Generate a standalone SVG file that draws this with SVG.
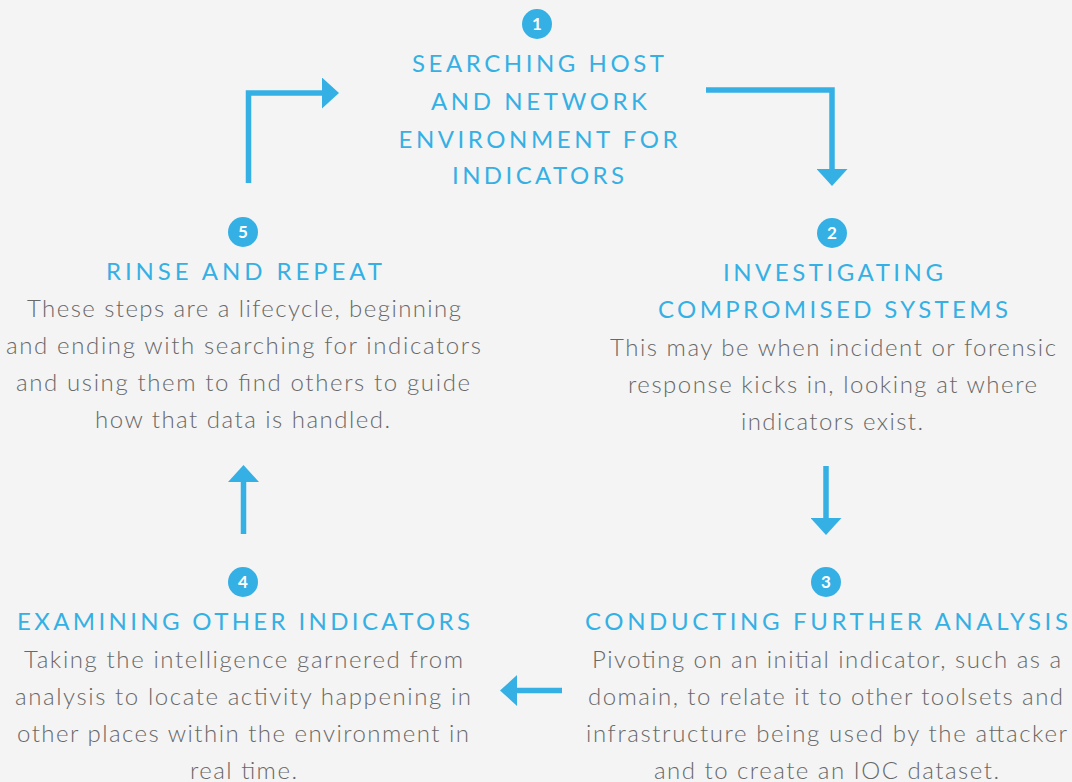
<svg xmlns="http://www.w3.org/2000/svg" width="1072" height="782" viewBox="0 0 1072 782">
  <defs>
    <style>
      .bg { fill: #f4f4f4; }
      .badge { fill: #35b0e5; }
      .num { fill: #ffffff; font-family: "Lato", "Liberation Sans", sans-serif; font-weight: 700; font-size: 17px; text-anchor: middle; }
      .head { fill: #35b0e5; font-family: "Lato", "Liberation Sans", sans-serif; font-weight: 400; font-size: 24px; text-anchor: middle; }
      .body { fill: #686868; font-family: "Lato", "Liberation Sans", sans-serif; font-weight: 300; font-size: 24px; text-anchor: middle; }
      .link { fill: none; stroke: #35b0e5; stroke-width: 5.5; stroke-linejoin: miter; stroke-linecap: butt; marker-end: url(#head); }
    </style>
    <marker id="head" markerUnits="userSpaceOnUse" markerWidth="17" markerHeight="31" viewBox="0 0 17 31" refX="0" refY="15.5" orient="auto">
      <path d="M0 0 L17 15.5 L0 31 Z" fill="#35b0e5"/>
    </marker>
  </defs>

  <rect class="bg" x="0" y="0" width="1072" height="782"/>

  <!-- connectors between the steps -->
  <g id="connectors">
    <path class="link" d="M248.5 183 V93 H322"/>
    <path class="link" d="M706 90 H832 V169"/>
    <path class="link" d="M826 466 V518"/>
    <path class="link" d="M562 690.5 H517"/>
    <path class="link" d="M243.5 534 V482"/>
  </g>

  <!-- step 1 -->
  <g id="step1">
    <circle class="badge" cx="537" cy="24" r="15"/>
    <text class="num" x="537" y="30">1</text>
    <text class="head" x="538" y="72" textLength="252" lengthAdjust="spacing">SEARCHING HOST</text>
    <text class="head" x="539" y="110" textLength="216" lengthAdjust="spacing">AND NETWORK</text>
    <text class="head" x="538" y="148" textLength="279" lengthAdjust="spacing">ENVIRONMENT FOR</text>
    <text class="head" x="538" y="184" textLength="172" lengthAdjust="spacing">INDICATORS</text>
  </g>

  <!-- step 2 -->
  <g id="step2">
    <circle class="badge" cx="832" cy="233" r="15"/>
    <text class="num" x="832" y="239">2</text>
    <text class="head" x="833" y="281" textLength="220" lengthAdjust="spacing">INVESTIGATING</text>
    <text class="head" x="833" y="318" textLength="350" lengthAdjust="spacing">COMPROMISED SYSTEMS</text>
    <text class="body" x="833" y="356" textLength="446" lengthAdjust="spacing">This may be when incident or forensic</text>
    <text class="body" x="832.5" y="393" textLength="409" lengthAdjust="spacing">response kicks in, looking at where</text>
    <text class="body" x="832" y="430" textLength="182" lengthAdjust="spacing">indicators exist.</text>
  </g>

  <!-- step 3 -->
  <g id="step3">
    <circle class="badge" cx="826" cy="582" r="15"/>
    <text class="num" x="826" y="588">3</text>
    <text class="head" x="826.5" y="630" textLength="483" lengthAdjust="spacing">CONDUCTING FURTHER ANALYSIS</text>
    <text class="body" x="826.5" y="668" textLength="469" lengthAdjust="spacing">Pivoting on an initial indicator, such as a</text>
    <text class="body" x="825.5" y="705" textLength="475" lengthAdjust="spacing">domain, to relate it to other toolsets and</text>
    <text class="body" x="826.5" y="742" textLength="481" lengthAdjust="spacing">infrastructure being used by the attacker</text>
    <text class="body" x="826.5" y="779" textLength="345" lengthAdjust="spacing">and to create an IOC dataset.</text>
  </g>

  <!-- step 4 -->
  <g id="step4">
    <circle class="badge" cx="243" cy="582" r="15"/>
    <text class="num" x="243" y="588">4</text>
    <text class="head" x="243.5" y="630" textLength="453" lengthAdjust="spacing">EXAMINING OTHER INDICATORS</text>
    <text class="body" x="243.5" y="668" textLength="439" lengthAdjust="spacing">Taking the intelligence garnered from</text>
    <text class="body" x="243" y="705" textLength="456" lengthAdjust="spacing">analysis to locate activity happening in</text>
    <text class="body" x="243" y="742" textLength="452" lengthAdjust="spacing">other places within the environment in</text>
    <text class="body" x="243.5" y="779" textLength="107" lengthAdjust="spacing">real time.</text>
  </g>

  <!-- step 5 -->
  <g id="step5">
    <circle class="badge" cx="243" cy="232" r="15"/>
    <text class="num" x="243" y="238">5</text>
    <text class="head" x="244" y="280" textLength="276" lengthAdjust="spacing">RINSE AND REPEAT</text>
    <text class="body" x="244" y="317" textLength="434" lengthAdjust="spacing">These steps are a lifecycle, beginning</text>
    <text class="body" x="243.5" y="354" textLength="475" lengthAdjust="spacing">and ending with searching for indicators</text>
    <text class="body" x="243" y="391" textLength="454" lengthAdjust="spacing">and using them to find others to guide</text>
    <text class="body" x="242.5" y="428" textLength="295" lengthAdjust="spacing">how that data is handled.</text>
  </g>
</svg>
